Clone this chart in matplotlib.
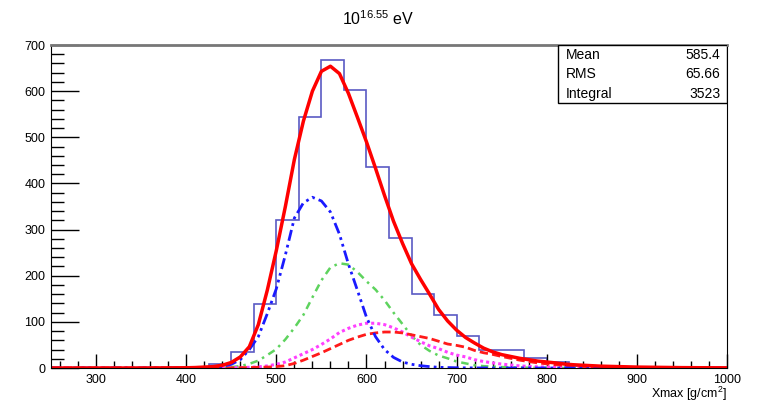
import numpy as np
import matplotlib
matplotlib.use("Agg")
import matplotlib.pyplot as plt
from matplotlib.ticker import MultipleLocator
from matplotlib.patches import Rectangle

plt.rcParams['font.family'] = ['Liberation Sans', 'DejaVu Sans']
plt.rcParams['mathtext.default'] = 'regular'

# histogram (bin width 25 g/cm2)
bin_edges = list(range(250, 1001, 25))
counts = [0, 0, 0, 0, 0, 0, 1, 8, 35, 138, 321, 545, 667, 602, 435, 281,
          161, 115, 69, 38, 38, 22, 14, 5, 3, 2, 1, 1, 0, 0]

# fitted curves
x_fit = [250, 300, 350] + list(range(400, 901, 10)) + [950, 1000]
total = [0, 0, 0,
         0.5, 1, 2, 3, 6, 12, 24, 46, 94, 169, 255, 350, 452, 535, 600,
         643, 654, 638, 595, 543, 490, 433, 374, 318, 270, 226, 192, 160,
         127, 102, 82, 66, 54, 43, 35, 29, 25, 21, 18, 15, 13, 11, 8.5, 7, 6,
         5, 4, 3.5, 3, 2.5, 2,
         0.8, 0.3]
iron = [0, 0, 0,
        0, 0, 0, 1, 3, 8, 18, 40, 68, 118, 172, 245, 325, 358, 370,
        362, 338, 290, 225, 168, 110, 68, 40, 23, 13, 8, 5, 3,
        1.5, 1, 0.5, 0.3, 0.2, 0.1, 0, 0, 0, 0, 0, 0, 0, 0, 0, 0, 0,
        0, 0, 0, 0, 0, 0,
        0, 0]
nitrogen = [0, 0, 0,
            0, 0, 0.3, 0.6, 1, 2, 4, 9, 16, 28, 41, 62, 87, 115, 153,
            190, 218, 227, 224, 208, 188, 170, 147, 120, 95, 70, 50, 37,
            27, 21, 14, 10, 6, 4, 3, 2, 1.5, 1, 0.7, 0.5, 0.3, 0.2, 0.1, 0.1, 0,
            0, 0, 0, 0, 0, 0,
            0, 0]
helium = [0, 0, 0,
          0, 0, 0, 0.2, 0.4, 0.7, 1, 1.5, 2.5, 4.5, 8, 13, 22, 31, 40,
          51, 63, 77, 86, 93, 97, 97, 94, 87, 78, 67, 57, 48,
          42, 34, 28, 24, 18, 14, 11, 8.5, 6.5, 4.5, 3.5, 2.5, 2, 1.5, 1, 0.8, 0.6,
          0.5, 0.4, 0.3, 0.2, 0.2, 0.1,
          0.05, 0]
proton = [0, 0, 0,
          0, 0, 0, 0, 0.2, 0.4, 0.6, 1, 1.5, 2, 3, 5, 10, 17, 25,
          33, 42, 51, 60, 67, 73, 76, 78, 78, 76, 72, 68, 64,
          58, 52, 49, 45, 38, 33, 29.5, 25, 21, 17, 14, 11, 9, 7, 5.5, 4.5, 3.5,
          2.8, 2.2, 1.7, 1.3, 1, 0.8,
          0.3, 0.1]

stats_names = ['Mean', 'RMS', 'Integral']
stats_values = ['585.4', '65.66', '3523']

fig = plt.figure(figsize=(7.57, 4.04), dpi=100)
ax = fig.add_axes([0.0674, 0.0891, 0.893, 0.7995])

ax.stairs(counts, bin_edges, color='#5a5ac4', linewidth=1.2)
ax.plot(x_fit, nitrogen, color='#5ed35e', linewidth=1.8, linestyle=(0, (3, 2, 1, 2)))
ax.plot(x_fit, helium, color='#ff40ff', linewidth=2.2, linestyle=(0, (1, 1)))
ax.plot(x_fit, proton, color='#ff1a1a', linewidth=2.0, linestyle=(0, (3, 1.5)))
ax.plot(x_fit, iron, color='#1a1aff', linewidth=2.0,
        linestyle=(0, (4, 1.5, 1, 1.5, 1, 1.5)))
ax.plot(x_fit, total, color='#ff0000', linewidth=2.5,
        solid_joinstyle='round', solid_capstyle='round')

ax.set_xlim(250, 1000)
ax.set_ylim(0, 700)
ax.xaxis.set_major_locator(MultipleLocator(100))
ax.xaxis.set_minor_locator(MultipleLocator(20))
ax.yaxis.set_major_locator(MultipleLocator(100))
ax.yaxis.set_minor_locator(MultipleLocator(20))
ax.tick_params(axis='x', which='major', direction='in', length=10, width=1, labelsize=9, pad=4)
ax.tick_params(axis='x', which='minor', direction='in', length=5, width=1)
ax.tick_params(axis='y', which='major', direction='in', length=20, width=1, labelsize=9, pad=4)
ax.tick_params(axis='y', which='minor', direction='in', length=9, width=1)
ax.spines['top'].set_linewidth(2)
ax.spines['top'].set_color('#777777')

ax.text(1.0, -0.08, 'Xmax [g/cm$^2$]', transform=ax.transAxes,
        fontsize=9, ha='right', va='center')
fig.text(0.5, 0.955, '$10^{16.55}$ eV', ha='center', va='center', fontsize=11.5)

# stats box
ax.add_patch(Rectangle((0.75, 0.8204), 0.25, 0.1796, transform=ax.transAxes,
                       facecolor='white', edgecolor='black', linewidth=1, zorder=5))
rows_y = [0.969, 0.909, 0.848]
for name, val, yy in zip(stats_names, stats_values, rows_y):
    ax.text(0.762, yy, name, transform=ax.transAxes, fontsize=10, va='center', zorder=6)
    ax.text(0.99, yy, val, transform=ax.transAxes, fontsize=10, va='center', ha='right', zorder=6)

fig.savefig('out.png', dpi=100)
